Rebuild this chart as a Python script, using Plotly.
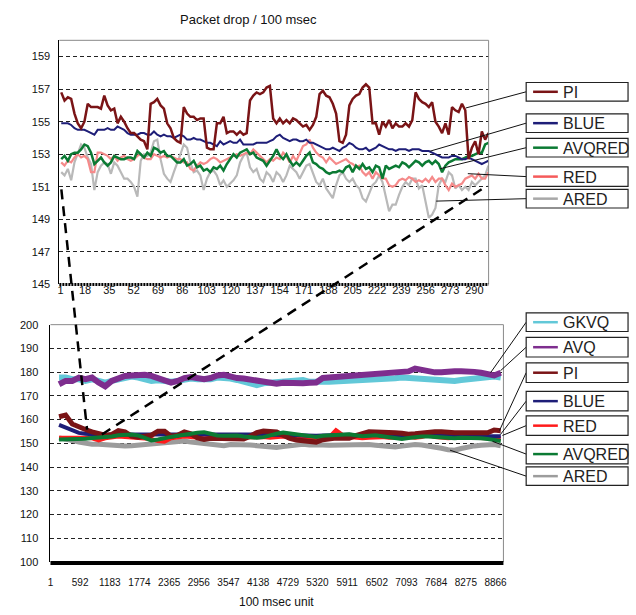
import numpy as np
import plotly.graph_objects as go

W, H = 636, 615

# ---------------- Top chart data (index 1..300) ----------------
top_pi = [156.8, 156.3, 156.5, 156.4, 155.5, 154.9, 154.6, 155.0, 156.1, 155.9,
          155.9, 155.9, 155.8, 156.6, 156.0, 155.7, 155.8, 154.9, 155.3, 155.0,
          154.6, 154.3, 154.3, 154.1, 153.9, 153.8, 153.3, 156.1, 156.2, 156.4,
          156.0, 155.8, 154.9, 154.6, 154.0, 153.8, 153.7, 155.9, 155.5, 155.3,
          155.3, 155.1, 155.2, 155.2, 153.4, 153.3, 153.3, 154.9, 154.9, 155.3,
          154.3, 154.4, 154.4, 154.2, 154.4, 154.2, 154.3, 156.3, 156.6, 156.8,
          156.7, 156.8, 157.1, 157.2, 155.2,
          154.9, 155.2, 154.9, 155.1, 154.9, 155.2, 155.1, 154.9, 154.7, 154.8,
          154.5, 154.8, 155.3, 156.7, 156.9, 156.6, 156.5, 156.1, 155.5, 153.8,
          153.7, 154.2, 156.0, 156.4, 156.6, 156.7, 157.1, 157.3, 157.1, 154.9,
          154.9, 154.2, 155.0, 154.7, 155.1, 154.6, 154.9, 154.7, 154.7, 154.9,
          154.7, 155.1, 156.8, 156.4, 156.2, 156.1, 155.9, 156.2, 155.0, 154.7,
          154.3, 154.9, 154.2, 155.9, 155.7, 155.6, 156.1, 155.7, 152.7, 153.4,
          153.8, 153.0, 154.4, 153.9, 154.3]
top_blue = [154.9, 154.9, 154.9, 154.8, 154.6, 154.5, 154.5, 154.5, 154.4, 154.3,
            154.2, 154.5, 154.5, 154.5, 154.6, 154.5, 154.5, 154.7, 154.6, 154.5,
            154.3, 154.2, 154.2, 154.2, 154.3, 154.3, 154.2, 154.2, 154.4, 154.2,
            154.1, 154.2, 154.1, 154.1, 154.0, 154.1, 154.2, 154.1, 153.9, 153.9,
            154.0, 153.9, 153.9, 153.8, 153.7, 153.7, 153.6, 153.5, 153.8, 153.6,
            153.7, 153.8, 153.7, 153.7, 153.9, 153.6, 153.6, 153.6, 153.6, 153.7,
            153.7, 153.7, 153.7, 153.8, 153.9,
            154.1, 154.2, 154.0, 153.9, 153.8, 153.9, 153.9, 153.8, 153.8, 153.9,
            153.7, 153.7, 153.6, 153.5, 153.4, 153.3, 153.3, 153.4, 153.3, 153.2,
            153.4, 153.5, 153.7, 153.6, 153.4, 153.3, 153.3, 153.4, 153.2, 153.3,
            153.4, 153.6, 153.5, 153.4, 153.3, 153.3, 153.2, 153.3, 153.3, 153.3,
            153.2, 153.3, 153.3, 153.3, 153.2, 153.2, 153.2, 153.1, 153.0, 152.9,
            152.8, 152.8, 152.8, 152.9, 152.9, 152.8, 152.7, 152.7, 152.8, 152.7,
            152.6, 152.5, 152.4, 152.5, 152.6]
top_avqred = [152.7, 152.9, 152.6, 153.0, 153.1, 153.1, 153.3, 153.6, 153.5, 153.1,
              152.4, 152.6, 152.8, 152.5, 152.3, 152.5, 152.9, 152.8, 152.7, 152.7,
              152.8, 152.8, 152.7, 153.2, 153.0, 152.8, 153.1, 152.9, 153.4, 153.3,
              153.1, 153.2, 152.9, 152.9, 152.7, 152.5, 152.5, 152.7, 152.3, 152.4,
              152.6, 152.2, 152.3, 152.0, 152.1, 151.9, 152.2, 152.1, 152.3, 152.0,
              152.4, 152.7, 153.0, 152.8, 153.1, 153.2, 153.3, 153.0, 153.1, 152.8,
              152.7, 152.6, 152.3, 152.6, 152.9,
              153.3, 152.9, 152.7, 153.0, 152.6, 152.3, 152.5, 152.3, 152.6, 152.9,
              153.1, 152.5, 152.4, 152.2, 152.1, 151.9, 151.8, 151.9, 151.9, 152.0,
              151.9, 152.2, 152.3, 151.9, 152.3, 152.1, 152.4, 152.1, 152.2, 151.9,
              152.3, 152.2, 151.5, 152.3, 152.1, 152.2, 152.3, 152.2, 152.5, 152.4,
              152.2, 152.4, 152.6, 152.5, 152.3, 152.5, 152.6, 152.4, 152.6, 152.4,
              151.9, 152.3, 152.5, 152.6, 152.7, 152.7, 152.7, 152.8, 152.9, 152.9,
              153.0, 153.1, 153.1, 153.6, 153.7]
top_red = [152.5, 152.3, 152.6, 152.5, 152.8, 153.0, 152.8, 152.9, 152.7, 151.9,
           151.9, 153.1, 153.1, 153.0, 152.9, 152.7, 152.9, 152.6, 152.8, 152.9,
           152.7, 152.6, 152.7, 152.9, 153.0, 152.8, 152.7, 152.7, 153.0, 152.9,
           152.8, 152.9, 152.8, 152.9, 152.8, 152.7, 152.7, 152.5, 152.5, 152.1,
           152.0, 152.3, 152.5, 152.4, 152.5, 152.7, 152.8, 152.7, 152.5, 152.6,
           152.7, 152.8, 152.9, 153.0, 152.9, 153.0, 153.1, 153.0, 153.3, 153.1,
           152.9, 152.7, 152.5, 152.7, 152.6,
           152.8, 152.7, 153.1, 152.9, 152.5, 152.9, 152.6, 153.0, 153.5, 153.6,
           153.9, 153.4, 153.1, 152.9, 152.8, 152.5, 152.8, 152.6, 152.4, 152.5,
           152.6, 152.7, 152.5, 152.4, 152.2, 152.3, 151.9, 151.7, 151.9, 151.5,
           151.9, 151.7, 151.5, 151.5, 151.1, 151.0, 151.1, 151.4, 151.5, 151.4,
           151.6, 151.5, 151.3, 151.4, 151.3, 151.5, 151.3, 151.6, 151.3, 151.5,
           151.5, 151.1, 150.8, 151.2, 151.0, 151.1, 151.2, 151.5, 151.6, 151.7,
           151.5, 151.8, 151.5, 151.5, 151.9]
top_ared = [151.9, 151.7, 152.1, 151.4, 152.5, 153.1, 153.6, 153.4, 152.8, 152.4,
            150.8, 151.9, 152.3, 152.5, 152.4, 151.8, 152.5, 152.3, 151.9, 151.5,
            151.5, 151.3, 151.0, 150.4, 152.6, 153.0, 152.9, 153.1, 153.8, 153.9,
            152.7, 151.8, 151.5, 151.3, 151.9, 152.4, 153.0, 153.6, 153.4, 152.5,
            151.9, 152.0, 151.7, 150.8, 151.5, 151.9, 152.0, 151.7, 151.1, 151.4,
            151.0, 151.2, 151.4, 151.7, 152.5, 152.9, 153.1, 152.2, 151.9, 152.1,
            151.5, 151.3, 151.9, 151.7, 151.3,
            151.9, 151.7, 151.3, 151.7, 152.3, 152.1, 151.9, 151.5, 151.9, 152.3,
            152.4, 151.9, 151.3, 151.1, 151.5, 150.9, 150.6, 150.3, 151.1, 151.7,
            151.9, 151.5, 151.3, 151.5, 151.1, 150.9, 150.3, 150.1, 150.6, 151.1,
            151.3, 151.7, 151.3, 150.3, 149.5, 149.9, 149.9, 150.5, 151.0, 151.3,
            151.1, 151.5, 151.5, 150.9, 151.1, 150.1, 149.1, 149.3, 149.7, 151.1,
            151.5, 151.3, 151.9, 151.7, 150.9, 151.1, 150.8, 151.0, 150.8, 151.3,
            151.1, 151.3, 151.5, 151.7, 152.3]
top_ticks = list(range(1, 291, 17))

# ---------------- Bottom chart data (index 1..~9000) ----------------
bot_gkvq = [177.7, 177.7, 177.0, 177.0, 176.3, 177.0, 176.3, 175.6, 176.3, 177.0,
            177.7, 178.1, 177.7, 176.7, 176.3, 176.6, 176.3, 175.9, 176.3, 177.0,
            177.3, 177.0, 176.7, 177.0, 177.7, 177.7, 177.3, 176.7, 175.9, 174.9,
            174.5, 175.3, 175.6, 175.6, 175.9, 176.3, 176.3, 176.7, 175.9, 175.6,
            175.9, 175.9, 176.0, 176.2, 176.3, 176.6, 176.8, 177.0, 177.1, 177.3,
            177.3, 177.4, 177.7, 177.5, 177.0, 177.0, 177.0, 176.7, 176.3, 176.2,
            176.3, 176.7, 177.0, 177.1, 177.4, 177.9, 178.1, 177.7]
bot_avq = [174.9, 176.3, 176.3, 177.7, 177.0, 177.7, 175.6, 174.0, 176.3, 177.7,
           178.4, 178.6, 179.0, 178.9, 178.4, 177.3, 176.3, 175.6, 176.3, 177.5,
           177.9, 177.3, 177.0, 177.5, 178.6, 178.9, 178.1, 177.5, 177.3, 176.8,
           176.6, 175.9, 175.3, 175.1, 175.5, 175.3, 174.9, 175.3, 175.5, 175.6,
           177.5, 177.7, 177.7, 177.9, 178.2, 178.5, 178.9, 179.3, 179.5, 179.5,
           179.6, 179.9, 180.0, 180.3, 181.5, 180.8, 180.3, 179.9, 179.9, 180.3,
           180.4, 180.4, 180.4, 180.1, 179.7, 179.0, 178.6, 179.7]
bot_pi = [161.2, 161.9, 158.1, 156.7, 155.8, 154.8, 154.0, 153.4, 153.7, 155.3,
          154.8, 153.0, 152.6, 153.2, 153.4, 155.1, 155.1, 153.0, 153.4, 154.8,
          154.0, 152.3, 151.6, 152.1, 152.1, 151.6, 151.9, 151.8, 151.8, 153.0,
          154.5, 155.2, 155.2, 154.8, 153.4, 152.1, 151.4, 151.0, 150.8, 150.5,
          151.5, 151.9, 152.2, 152.1, 152.1, 153.2, 154.2, 154.9, 154.8, 154.5,
          154.4, 154.4, 154.2, 153.8, 154.0, 154.4, 154.7, 154.9, 154.9, 154.5,
          154.4, 154.4, 154.4, 154.4, 154.4, 154.4, 155.6, 155.3]
bot_blue = [157.8, 156.7, 155.3, 154.4, 154.0, 153.7, 153.6, 153.4, 153.7, 153.7,
            153.6, 153.7, 153.4, 153.3, 153.3, 153.4, 153.6, 153.4, 153.4, 153.7,
            153.7, 153.6, 153.4, 153.3, 153.3, 153.4, 153.4, 153.3, 153.4, 153.7,
            153.8, 153.7, 153.6, 153.4, 153.4, 153.3, 153.3, 153.3, 153.2, 153.2,
            153.3, 153.4, 153.6, 153.7, 153.6, 153.4, 153.3, 153.4, 153.6, 153.6,
            153.4, 153.3, 153.4, 153.4, 153.6, 153.6, 153.4, 153.3, 153.3, 153.4,
            153.4, 153.3, 153.2, 153.2, 153.0, 152.9, 152.8, 153.0]
bot_red = [152.3, 152.3, 152.6, 152.6, 152.3, 152.1, 151.2, 152.1, 152.6, 152.9,
           152.6, 152.3, 152.3, 152.1, 151.8, 151.0, 150.7, 152.1, 152.6, 152.9,
           152.6, 152.3, 152.1, 152.2, 152.3, 152.1, 152.1, 152.2, 152.3, 152.6,
           152.9, 152.6, 152.3, 152.6, 152.9, 152.6, 152.3, 152.2, 152.1, 152.1,
           152.3, 152.6, 155.5, 153.5, 152.6, 152.3, 152.1, 152.3, 152.6, 152.6,
           152.3, 152.1, 152.3, 152.6, 152.3, 152.6, 153.5, 152.6, 152.3, 152.1,
           152.3, 152.6, 152.3, 152.1, 152.3, 152.1, 152.3, 152.1]
bot_avqred = [151.6, 151.6, 151.6, 151.6, 151.9, 152.2, 152.3, 152.6, 152.9, 153.4,
              153.7, 153.7, 153.3, 152.1, 151.2, 151.6, 152.3, 152.7, 153.2, 153.4,
              154.0, 154.5, 154.7, 154.0, 153.3, 153.2, 153.4, 153.3, 152.9, 152.6,
              152.3, 152.6, 153.4, 154.0, 154.5, 154.2, 153.8, 153.4, 153.0, 152.7,
              153.2, 153.3, 153.4, 153.7, 153.8, 153.4, 153.0, 153.2, 153.4, 153.0,
              152.5, 151.9, 151.8, 152.2, 152.6, 152.9, 152.9, 152.6, 152.5, 152.2,
              152.1, 152.3, 152.3, 152.2, 152.1, 151.8, 151.5, 151.0]
bot_ared = [152.3, 151.9, 151.2, 150.5, 150.0, 149.6, 149.6, 149.3, 149.0, 148.9,
            148.9, 149.0, 149.3, 149.6, 149.6, 149.9, 150.1, 150.5, 150.8, 151.0,
            150.5, 150.1, 149.7, 149.3, 149.0, 149.0, 149.5, 149.6, 149.6, 149.3,
            149.0, 148.6, 148.4, 148.2, 148.6, 149.0, 149.5, 149.6, 149.3, 149.5,
            149.3, 149.2, 149.3, 149.2, 149.3, 149.6, 149.6, 149.5, 149.2, 148.8,
            148.4, 148.4, 148.8, 149.2, 149.5, 149.3, 149.0, 148.6, 147.9, 147.3,
            147.1, 147.8, 148.5, 148.9, 149.2, 149.5, 149.5, 149.0]
bot_ticks = [1 + 591 * k for k in range(16)]

C_PI = "#7A1416"
C_BLUE = "#1E1E78"
C_AVQRED = "#0B7A33"
C_RED_TOP = "#F58A8A"
C_ARED_TOP = "#B9B9B9"
C_RED = "#FF1A1A"
C_ARED = "#9C9C9C"
C_GKVQ = "#62C8D8"
C_AVQ = "#7E2E8E"

FONT = "Liberation Sans, Arial, sans-serif"


def px(x):
    return x / W


def py(y):
    return 1 - y / H


fig = go.Figure()


def xs(vals, a, b):
    return np.linspace(a, b, len(vals))


# Top traces
for vals, col, w in [(top_ared, C_ARED_TOP, 2.2), (top_red, C_RED_TOP, 2.2),
                     (top_avqred, C_AVQRED, 2.5), (top_blue, C_BLUE, 2.0),
                     (top_pi, C_PI, 2.5)]:
    fig.add_trace(go.Scatter(x=xs(vals, 1.4, 299.8), y=vals, mode="lines",
                             line=dict(color=col, width=w), xaxis="x", yaxis="y",
                             showlegend=False, hoverinfo="skip"))

# Bottom traces
for vals, col, w in [(bot_gkvq, C_GKVQ, 6), (bot_avq, C_AVQ, 6),
                     (bot_ared, C_ARED, 5), (bot_red, C_RED, 4),
                     (bot_blue, C_BLUE, 4), (bot_pi, C_PI, 5),
                     (bot_avqred, C_AVQRED, 4)]:
    fig.add_trace(go.Scatter(x=xs(vals, 172, 8971), y=vals, mode="lines",
                             line=dict(color=col, width=w), xaxis="x2", yaxis="y2",
                             showlegend=False, hoverinfo="skip"))

TL, TR, TT, TB = 57, 491, 35, 284
BL, BR, BT, BB = 48, 506, 325, 567

grid = dict(showgrid=True, gridcolor="#222", gridwidth=1, griddash="4px,3px")

fig.update_layout(
    width=W, height=H, margin=dict(l=0, r=0, t=0, b=0),
    paper_bgcolor="white", plot_bgcolor="white",
    font=dict(family=FONT, color="#111", size=11),
    xaxis=dict(domain=[px(TL), px(TR)], anchor="free", position=py(TB - 3),
               range=[0.1, 299.9],
               tickmode="array", tickvals=top_ticks, showgrid=False, zeroline=False,
               showline=False, ticks="", tickfont=dict(size=11, color="#111")),
    yaxis=dict(domain=[py(TB), py(TT)], anchor="x", range=[145, 160],
               tickmode="array", tickvals=list(range(145, 160, 2)), zeroline=False,
               showline=True, linecolor="black", linewidth=1,
               ticks="outside", ticklen=6, tickcolor="rgba(0,0,0,0)",
               tickfont=dict(size=11), **grid),
    xaxis2=dict(domain=[px(BL), px(BR)], anchor="y2", range=[1, 9024],
                tickmode="array", tickvals=bot_ticks, showgrid=False, zeroline=False,
                showline=False, ticks="outside", ticklen=11, tickcolor="rgba(0,0,0,0)",
                tickfont=dict(size=10)),
    yaxis2=dict(domain=[py(BB), py(BT)], anchor="x2", range=[100, 200],
                tickmode="array", tickvals=list(range(100, 201, 10)), zeroline=False,
                showline=True, linecolor="black", linewidth=1,
                ticks="outside", ticklen=9, tickcolor="rgba(0,0,0,0)",
                tickfont=dict(size=11), **grid),
)

shapes = []
# plot borders
for l, r, t, b in [(TL, TR, TT, TB), (BL, BR, BT, BB)]:
    shapes.append(dict(type="line", xref="paper", yref="paper", x0=px(l), x1=px(r),
                       y0=py(t), y1=py(t), line=dict(color="#8a8a8a", width=1), layer="above"))
    shapes.append(dict(type="line", xref="paper", yref="paper", x0=px(r), x1=px(r),
                       y0=py(t), y1=py(b), line=dict(color="#8a8a8a", width=1), layer="above"))
# axis base lines
shapes.append(dict(type="line", xref="paper", yref="paper", x0=px(TL), x1=px(TR),
                   y0=py(TB), y1=py(TB), line=dict(color="black", width=3, dash="2px,1px"),
                   layer="above"))
shapes.append(dict(type="line", xref="paper", yref="paper", x0=px(BL), x1=px(BR),
                   y0=py(BB + 1), y1=py(BB + 1), line=dict(color="black", width=4),
                   layer="above"))

# zoom connector dashed lines
for (x0, y0, x1, y1) in [(59, 187, 85, 432), (100, 437, 490, 183)]:
    shapes.append(dict(type="line", xref="paper", yref="paper", x0=px(x0), y0=py(y0),
                       x1=px(x1), y1=py(y1),
                       line=dict(color="black", width=2.5, dash="10px,7px"), layer="above"))

annotations = []


def legend_box(y0, y1, color, label, target):
    shapes.append(dict(type="line", xref="paper", yref="paper",
                       x0=px(529), y0=py((y0 + y1) / 2), x1=px(target[0]), y1=py(target[1]),
                       line=dict(color="#111", width=1), layer="above"))
    shapes.append(dict(type="rect", xref="paper", yref="paper", x0=px(529), x1=px(632),
                       y0=py(y1), y1=py(y0), line=dict(color="#222", width=1.2),
                       fillcolor="white", layer="above"))
    ym = (y0 + y1) / 2
    shapes.append(dict(type="line", xref="paper", yref="paper", x0=px(536), x1=px(561),
                       y0=py(ym), y1=py(ym), line=dict(color=color, width=2.5), layer="above"))
    annotations.append(dict(xref="paper", yref="paper", x=px(564), y=py(ym + 0.5),
                            text=label, showarrow=False, xanchor="left", yanchor="middle",
                            font=dict(size=16, color="#222", family=FONT)))


legend_box(78, 97, C_PI, "PI", (468, 104))
legend_box(110, 129, C_BLUE, "BLUE", (432, 148))
legend_box(135, 154, C_AVQRED, "AVQRED", (442, 166))
legend_box(164, 184, "#F55A5A", "RED", (470, 171))
legend_box(187, 206, "#A8A8A8", "ARED", (438, 199))

legend_box(313, 332, C_GKVQ, "GKVQ", (493, 374))
legend_box(338, 358, C_AVQ, "AVQ", (503, 372))
legend_box(364, 384, C_PI, "PI", (502, 433))
legend_box(393, 413, C_BLUE, "BLUE", (503, 437))
legend_box(418, 438, C_RED, "RED", (505, 438))
legend_box(447, 467, C_AVQRED, "AVQRED", (495, 444))
legend_box(470, 489, C_ARED, "ARED", (452, 453))

annotations.append(dict(xref="paper", yref="paper", x=px(248), y=py(14),
                        text="Packet drop / 100 msec", showarrow=False,
                        xanchor="center", yanchor="middle", font=dict(size=13, family=FONT)))
annotations.append(dict(xref="paper", yref="paper", x=px(277), y=py(608),
                        text="100 msec unit", showarrow=False,
                        xanchor="center", yanchor="middle", font=dict(size=12, family=FONT)))

fig.update_layout(shapes=shapes, annotations=annotations)
fig.write_html("out.html")
